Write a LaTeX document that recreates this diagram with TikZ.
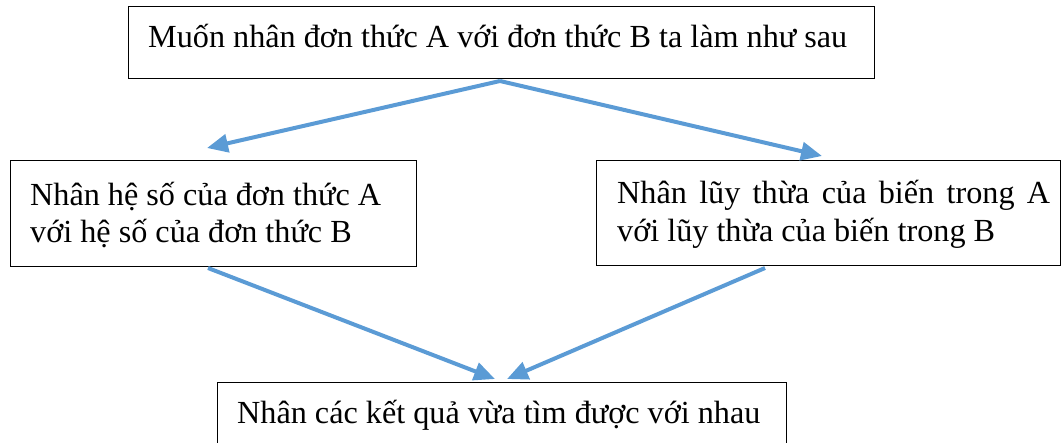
\documentclass[tikz,border=0pt]{standalone}
\usepackage{fontspec}
\setmainfont{Liberation Serif}
\usetikzlibrary{arrows.meta}
\definecolor{arrowblue}{HTML}{5B9BD5}
\begin{document}
\begin{tikzpicture}[x=1pt,y=-1pt,
  box/.style={draw=black, line width=1.4pt, inner sep=0pt, anchor=north west},
  txt/.style={anchor=base west, inner sep=0pt, font=\fontsize{32.2}{38}\selectfont},
  conn/.style={draw=arrowblue, line width=4pt, -{Triangle[length=21pt,width=18pt]}}]
\useasboundingbox (0,0) rectangle (1062,442);
\node[box, minimum width=746pt, minimum height=72pt] (top) at (128,6) {};
\node[box, minimum width=406pt, minimum height=106pt] (left) at (10,160) {};
\node[box, minimum width=464pt, minimum height=105pt] (right) at (596,160) {};
\node[box, minimum width=569pt, minimum height=80pt] (bottom) at (217,382) {};
\node[txt] (t1) at (148,47) {Muốn nhân đơn thức A với đơn thức B ta làm như sau};
\node[txt] (t2a) at (30,205) {Nhân hệ số của đơn thức A};
\node[txt] (t2b) at (30,242) {với hệ số của đơn thức B};
\node[txt] (t3a) at (617,203) {\makebox[433pt][s]{Nhân lũy thừa của biến trong A}};
\node[txt] (t3b) at (617,241) {với lũy thừa của biến trong B};
\node[txt] (t4) at (237,423) {Nhân các kết quả vừa tìm được với nhau};
\coordinate (s1) at (500,81);
\coordinate (e1) at (207,148);
\coordinate (e2) at (822,156);
\coordinate (s3) at (208,268);
\coordinate (s4) at (765,268);
\coordinate (e3) at (495,379);
\coordinate (e4) at (507,379);
\draw[conn] (s1) -- (e1);
\draw[conn] (s1) -- (e2);
\draw[conn] (s3) -- (e3);
\draw[conn] (s4) -- (e4);
\end{tikzpicture}
\end{document}
